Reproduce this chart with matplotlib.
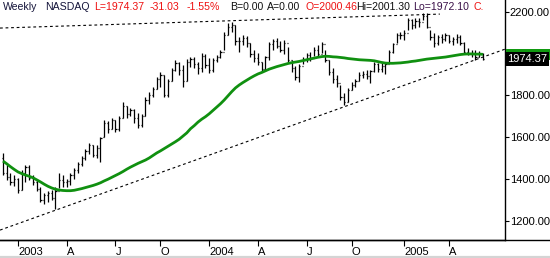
import matplotlib
matplotlib.use("Agg")
import matplotlib.pyplot as plt
from matplotlib.lines import Line2D
from matplotlib.patches import Rectangle

plt.rcParams['font.family'] = ['Liberation Sans', 'DejaVu Sans']

# ---- data (weekly OHLC) ----
opens = [1500,1430,1410,1385,1400,1345,1430,1455,1405,1385,
         1350,1300,1320,1330,1310,1340,1395,1385,1390,1420,
         1440,1470,1500,1535,1560,1515,1550,1600,1670,1640,
         1680,1640,1690,1750,1710,1730,1690,1660,1700,1780,
         1800,1830,1880,1900,1800,1870,1920,1955,1920,1870,
         1960,1975,1950,1930,1990,1945,1920,1970,1985,2010,
         2090,2130,2140,2060,2060,2075,2050,2000,1980,1960,
         1925,1985,2045,2060,2035,2020,2050,1970,1930,1890,
         1940,1975,1995,1980,2020,2000,2045,1970,1910,1880,
         1860,1790,1770,1825,1850,1870,1900,1905,1895,1915,
         1950,1925,1940,1950,2010,2045,2090,2090,2100,2160,
         2140,2155,2150,2180,2130,2080,2050,2080,2070,2090,
         2060,2070,2080,2050,2010,2000,2005,1985,2000.46]
highs = [1522,1466,1428,1420,1405,1440,1466,1466,1420,1395,
         1360,1330,1340,1345,1360,1428,1420,1400,1430,1450,
         1480,1510,1545,1570,1560,1560,1600,1682,1675,1690,
         1680,1700,1768,1750,1740,1735,1716,1710,1790,1816,
         1840,1888,1912,1900,1880,1931,1970,1960,1946,1975,
         1985,1985,1960,2003,2000,1979,1980,1995,2018,2104,
         2147,2152,2138,2080,2090,2085,2051,2020,2003,1960,
         1990,2056,2070,2075,2060,2065,2030,1970,1940,1950,
         1984,2003,2010,2032,2040,2056,2020,1970,1930,1900,
         1850,1812,1835,1864,1880,1912,1915,1920,1922,1960,
         1955,1955,1960,2018,2051,2099,2105,2114,2171,2165,
         2170,2170,2195,2195,2114,2099,2090,2095,2100,2090,
         2080,2095,2090,2056,2027,2020,2018,2015,2001.30]
lows = [1418,1394,1370,1365,1332,1345,1385,1395,1370,1340,
        1290,1280,1290,1300,1255,1356,1360,1360,1370,1400,
        1430,1460,1490,1520,1505,1500,1480,1600,1620,1640,
        1625,1630,1690,1690,1700,1670,1644,1650,1700,1760,
        1790,1830,1840,1792,1790,1870,1915,1900,1840,1870,
        1935,1930,1905,1910,1930,1907,1910,1960,1979,2018,
        2090,2104,2042,2010,2040,2030,1984,1960,1946,1912,
        1915,1970,2020,2027,2010,2000,1960,1912,1874,1864,
        1950,1960,1965,1990,1990,2003,1960,1898,1860,1840,
        1778,1754,1770,1826,1840,1870,1885,1880,1860,1910,
        1910,1910,1905,1960,2003,2051,2070,2066,2114,2120,
        2125,2130,2162,2123,2066,2032,2040,2050,2060,2050,
        2040,2050,2040,2003,1994,1985,1970,1985,1972.10]
closes = [1430,1410,1385,1400,1345,1430,1455,1405,1385,1350,
          1300,1320,1330,1310,1340,1395,1385,1390,1420,1440,
          1470,1500,1535,1560,1515,1550,1595,1670,1640,1680,
          1640,1690,1750,1710,1730,1690,1660,1700,1780,1800,
          1830,1880,1900,1800,1870,1920,1955,1920,1870,1960,
          1975,1950,1930,1990,1945,1920,1970,1985,2010,2090,
          2130,2140,2060,2060,2075,2050,2000,1980,1960,1925,
          1985,2045,2060,2035,2020,2050,1970,1930,1890,1940,
          1975,1995,1980,2020,2000,2045,1970,1910,1880,1860,
          1790,1770,1825,1850,1870,1900,1905,1895,1915,1950,
          1925,1940,1950,2010,2045,2090,2090,2100,2160,2140,
          2155,2150,2180,2130,2080,2050,2080,2070,2090,2060,
          2070,2080,2050,2010,2000,2005,1985,2005,1974.37]
ma = [1485,1472,1458,1445,1433,1425,1418,1412,1405,1395,
      1385,1374,1364,1356,1350,1346,1344,1343,1343,1345,
      1349,1353,1358,1363,1368,1374,1381,1390,1398,1407,
      1416,1425,1435,1446,1456,1465,1474,1482,1490,1500,
      1512,1524,1534,1545,1556,1567,1578,1590,1605,1620,
      1640,1655,1672,1686,1698,1712,1728,1744,1760,1778,
      1798,1818,1836,1850,1862,1873,1884,1894,1903,1910,
      1918,1926,1932,1938,1943,1948,1953,1957,1960,1963,
      1967,1971,1975,1979,1983,1986,1988,1987,1985,1984,
      1982,1980,1977,1975,1973,1971,1970,1969,1968,1966,
      1962,1958,1955,1954,1954,1955,1956,1958,1960,1963,
      1965,1968,1971,1974,1976,1978,1980,1982,1984,1987,
      1990,1993,1996,1998,1999,1999,1998,1998,1997]

tick_idx = [4, 17, 30, 42, 55, 68, 81, 93, 107, 119]
tick_labels = ['2003', 'A', 'J', 'O', '2004', 'A', 'J', 'O', '2005', 'A']
y_ticks = [1200, 1400, 1600, 1800, 2200]

upper_trend_x = [-0.8, 116.5]
upper_trend_y = [2123, 2190]
lower_trend_x = [-0.8, 133.9]
lower_trend_y = [1154, 2022]

last_close = 1974.37
last_ma = 1997.6

# ---- figure ----
W, H = 550, 258
fig = plt.figure(figsize=(W / 100, H / 100), dpi=100)
fig.patch.set_facecolor('white')
ax = fig.add_axes([0, 18 / H, 505 / W, 240 / H])
ax.set_facecolor('white')

n = len(closes)
xs = list(range(n))
ax.vlines(xs, lows, highs, color='black', lw=0.9)
ax.hlines(opens, [x - 0.32 for x in xs], xs, color='black', lw=0.9)
ax.hlines(closes, xs, [x + 0.32 for x in xs], color='black', lw=0.9)

ax.plot(xs, ma, color='#109010', lw=2.0, solid_capstyle='butt')

ax.plot(upper_trend_x, upper_trend_y, color='black', lw=0.8, ls=(0, (2.5, 2.5)))
ax.plot(lower_trend_x, lower_trend_y, color='black', lw=0.8, ls=(0, (2.5, 2.5)))

ax.set_xlim(-0.8, 133.87)
ax.set_ylim(1106.5, 2257.6)

for s in ['top', 'left']:
    ax.spines[s].set_visible(False)
ax.spines['right'].set_linewidth(1.0)
ax.spines['bottom'].set_linewidth(1.0)

ax.yaxis.tick_right()
ax.set_yticks(y_ticks)
ax.set_yticklabels([f'{v:.2f}' for v in y_ticks])
ax.tick_params(axis='y', direction='out', length=3, width=0.8, pad=0.5,
               labelsize=8, colors='black')
ax.set_xticks(tick_idx)
ax.set_xticklabels(tick_labels, ha='left')
ax.tick_params(axis='x', direction='out', length=4, width=0.8, pad=1,
               labelsize=8, colors='black')

# extended bottom axis line and bottom gray strip
fig.add_artist(Line2D([0, 1], [18 / H, 18 / H], color='black', lw=1.0,
                      transform=fig.transFigure))
fig.add_artist(Line2D([0, 1], [1 / H, 1 / H], color='#d4d4d4', lw=1.6,
                      transform=fig.transFigure))

# value markers on right axis: MA (green, mostly hidden) and last close (black)
ytr = ax.get_yaxis_transform()
ax.add_patch(Rectangle((1.002, last_ma - 27), 0.09, 54, transform=ytr,
                       fc='#119911', ec='none', clip_on=False, zorder=4))
ax.text(1.004, last_close, '1974.37', transform=ytr,
        fontsize=8, color='white', va='center', ha='left', clip_on=False,
        zorder=5,
        bbox=dict(boxstyle='square,pad=0.15', fc='black', ec='none'))

# header
header = [
    (3, 'Weekly', '#14143a'),
    (45, 'NASDAQ', '#14143a'),
    (94, 'L=1974.37', '#ee1111'),
    (150, '-31.03', '#ee1111'),
    (187, '-1.55%', '#ee1111'),
    (230, 'B=0.00', '#111111'),
    (267, 'A=0.00', '#111111'),
    (305, 'O=2000.46', '#ee1111'),
    (356, 'Hi=2001.30', '#111111'),
    (413, 'Lo=1972.10', '#3a1048'),
    (473, 'C.', '#ee1111'),
]
for xp, t, c in header:
    fig.text(xp / W, 1 - 7.5 / H, t, fontsize=7.6, color=c, ha='left', va='center')

fig.savefig('out.png', dpi=100, facecolor='white')
